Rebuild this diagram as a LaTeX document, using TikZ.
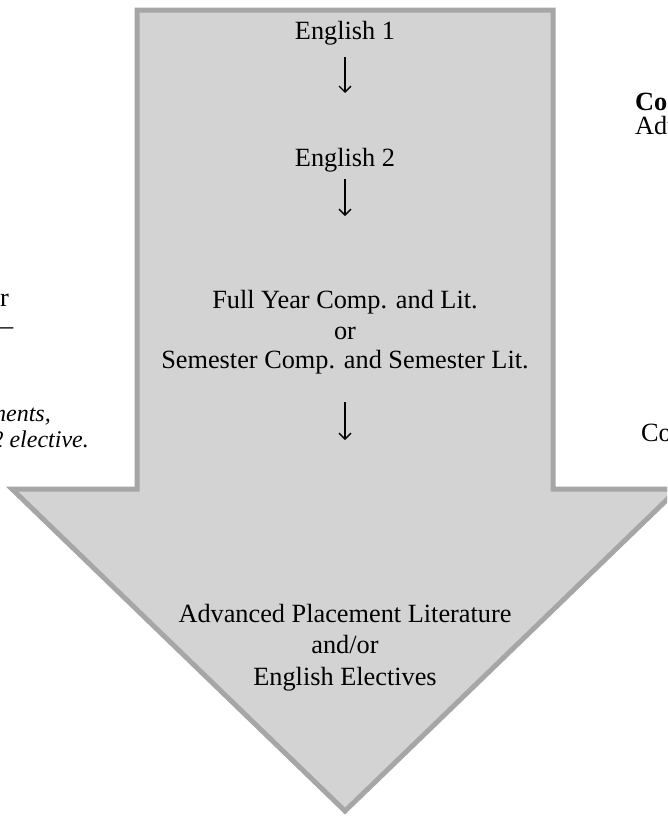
\documentclass[tikz,border=0pt]{standalone}
\usepackage{fontspec}
\setmainfont{Liberation Serif}
\usetikzlibrary{arrows.meta}
\definecolor{arrowfill}{HTML}{D3D3D3}
\definecolor{arrowedge}{HTML}{A6A6A6}
\begin{document}
\begin{tikzpicture}[x=1pt,y=-1pt,
  txt/.style={inner sep=0pt, font=\fontsize{26.3}{30}\selectfont},
  itxt/.style={inner sep=0pt, font=\fontsize{24}{28}\selectfont\itshape},
  btxt/.style={inner sep=0pt, font=\fontsize{26.3}{30}\selectfont\bfseries},
  downstep/.style={line width=1.5pt, -{Straight Barb[length=6pt,width=12pt,line width=1.4pt]}},
  bigarrow/.style={fill=arrowfill, draw=arrowedge, line width=5pt}]
\useasboundingbox (0,0) rectangle (667,817);
\begin{scope}
\clip (0,0) rectangle (667,817);
\draw[bigarrow] (137,10) -- (553,10) -- (553,489) -- (678,489) -- (345,811) -- (12,489) -- (137,489) -- cycle;
% side fragments
\node[txt, anchor=base east] (l1) at (9,306) {r};
\node[txt, anchor=base west] (l2) at (0,334) {–};
\node[itxt, anchor=base east] (l3) at (51,421) {ments,};
\node[itxt, anchor=base east] (l4) at (89,447) {2 elective.};
\node[btxt, anchor=base west] (r1) at (635,110) {Con};
\node[txt, anchor=base west] (r2) at (635,134) {Adv};
\node[txt, anchor=base west] (r3) at (641,441) {Co};
\end{scope}
% centre texts
\node[txt, anchor=base] (e1) at (345,39) {English 1};
\node[txt, anchor=base] (e2) at (345,166) {English 2};
\node[txt, anchor=base] (fy) at (345,308) {Full Year Comp. and Lit.};
\node[txt, anchor=base] (or) at (345,339) {or};
\node[txt, anchor=base] (sc) at (345,368) {Semester Comp. and Semester Lit.};
\node[txt, anchor=base] (ap) at (345,622) {Advanced Placement Literature};
\node[txt, anchor=base] (ao) at (345,653) {and/or};
\node[txt, anchor=base] (ee) at (345,685) {English Electives};
% step arrows
\coordinate (a1s) at (345,57);  \coordinate (a1e) at (345,93);
\coordinate (a2s) at (345,179); \coordinate (a2e) at (345,216);
\coordinate (a3s) at (345,402); \coordinate (a3e) at (345,440);
\draw[downstep] (a1s) -- (a1e);
\draw[downstep] (a2s) -- (a2e);
\draw[downstep] (a3s) -- (a3e);
\end{tikzpicture}
\end{document}
